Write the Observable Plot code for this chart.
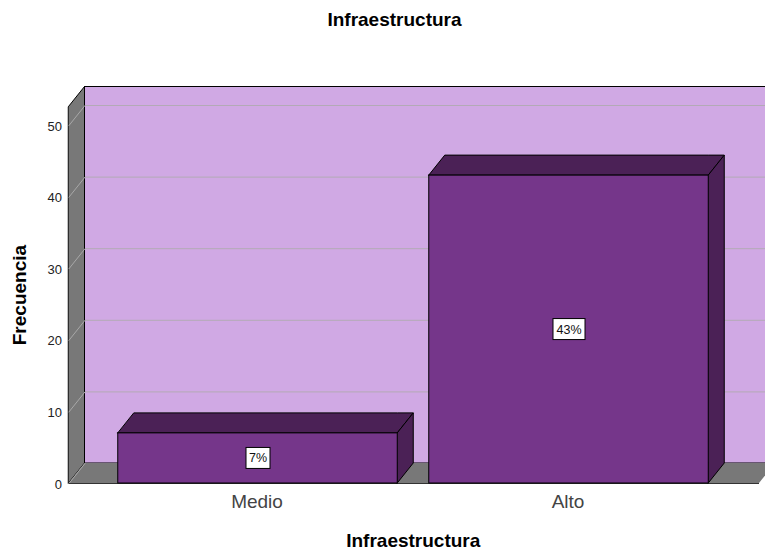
<!DOCTYPE html>
<html>
<head>
<meta charset="utf-8">
<script src="https://cdn.jsdelivr.net/npm/d3@7"></script>
<script src="https://cdn.jsdelivr.net/npm/@observablehq/plot@0.6"></script>
<style>
html,body{margin:0;padding:0;background:#fff;overflow:hidden}
#t{height:40px;box-sizing:border-box;padding:11px 0 0 24px;text-align:center;font:bold 19px/18px "Liberation Sans",sans-serif;color:#000}
svg{display:block}
</style>
</head>
<body>
<div id="t">Infraestructura</div>
<div id="c"></div>
<script>
const categories = ["Medio", "Alto"];
const values = [7, 43];
const percentLabels = ["7%", "43%"];
const yTicks = [0, 10, 20, 30, 40, 50];

const PXX = 311, PXY = 7.16;         // px per data unit
const dx = 16 / PXX, dy = 20 / PXY;  // oblique depth
const barHalf = 139.75 / PXX;
const xL = (68.5 - 257.5) / PXX, xR = (759 - 257.5) / PXX;
const yTop = (483 - 86.5) / PXY - dy;
const boxW = [24, 32], boxH = 21;

const C = {wall:"#d0a9e4", side:"#787878", grid:"#b3aab6", gridSide:"#a8a8a8", front:"#75368a", dark:"#4b2156", edge:"#000"};

const slab = (x0, x1, v) => [
  {x:x0, y1:v, y2:v},
  {x:x0+dx, y1:v, y2:v+dy},
  {x:x1, y1:v, y2:v+dy},
  {x:x1+dx, y1:v+dy, y2:v+dy}
];
const side = (x, v0, v1) => [{x, y1:v0, y2:v1},{x:x+dx, y1:v0+dy, y2:v1+dy}];

const bars = categories.map((c,i)=>({c,i,v:values[i],x1:i-barHalf,x2:i+barHalf,label:percentLabels[i],w:boxW[i]}));

const plot = Plot.plot({
  width:765, height:513,
  marginLeft:68.5, marginRight:0, marginTop:46.5, marginBottom:70,
  x:{type:"linear", domain:[xL, (765-257.5)/PXX], axis:null},
  y:{domain:[0, yTop+dy], axis:null},
  marks:[
    Plot.rect([0],{x1:xL+dx, x2:xR+dx, y1:dy, y2:yTop+dy, fill:C.wall, stroke:C.edge, strokeWidth:1}),
    Plot.ruleY(yTicks,{y:d=>d+dy, x1:xL+dx, x2:xR+dx, stroke:C.grid, strokeWidth:1}),
    Plot.areaY(side(xL,0,yTop),{x:"x",y1:"y1",y2:"y2",fill:C.side,stroke:C.edge,strokeWidth:1}),
    Plot.areaY(slab(xL,xR,0),{x:"x",y1:"y1",y2:"y2",fill:C.side}),
    ...yTicks.map(v=>Plot.line([[xL,v],[xL+dx,v+dy]],{stroke:C.gridSide,strokeWidth:1})),
    Plot.ruleY([0],{x1:xL,x2:xR,stroke:"#333",strokeWidth:1}),
    ...bars.flatMap(b=>[
      Plot.areaY(slab(b.x1,b.x2,b.v),{x:"x",y1:"y1",y2:"y2",fill:C.dark,stroke:C.edge,strokeWidth:1}),
      Plot.areaY(side(b.x2,0,b.v),{x:"x",y1:"y1",y2:"y2",fill:C.dark,stroke:C.edge,strokeWidth:1}),
      Plot.rect([b],{x1:"x1",x2:"x2",y1:0,y2:"v",fill:C.front,stroke:C.edge,strokeWidth:1})
    ]),
    Plot.rect(bars,{x1:d=>d.i-d.w/2/PXX,x2:d=>d.i+d.w/2/PXX,y1:d=>d.v/2-boxH/2/PXY,y2:d=>d.v/2+boxH/2/PXY,fill:"#fff",stroke:"#000",strokeWidth:1,dx:0.5}),
    Plot.text(bars,{x:"i",y:d=>d.v/2,text:"label",fill:"#111",fontSize:12.5,fontFamily:"Liberation Sans"}),
    Plot.axisY(yTicks,{anchor:"left",tickSize:0,tickPadding:7,dy:1,label:null,fontSize:13,fontFamily:"Liberation Sans",color:"#222"}),
    Plot.axisX([0,1],{anchor:"bottom",tickSize:0,tickPadding:11,dx:-1,label:null,tickFormat:i=>categories[i],fontSize:19,fontFamily:"Liberation Sans",color:"#444"}),
    Plot.text(["Infraestructura"],{frameAnchor:"bottom",dx:-4,dy:63,fontSize:19,fontWeight:"bold",fontFamily:"Liberation Sans",fill:"#000"}),
    Plot.text(["Frecuencia"],{frameAnchor:"left",rotate:-90,dx:-49,dy:60,fontSize:19,fontWeight:"bold",fontFamily:"Liberation Sans",fill:"#000"})
  ]
});
document.getElementById("c").appendChild(plot);
</script>
</body>
</html>
